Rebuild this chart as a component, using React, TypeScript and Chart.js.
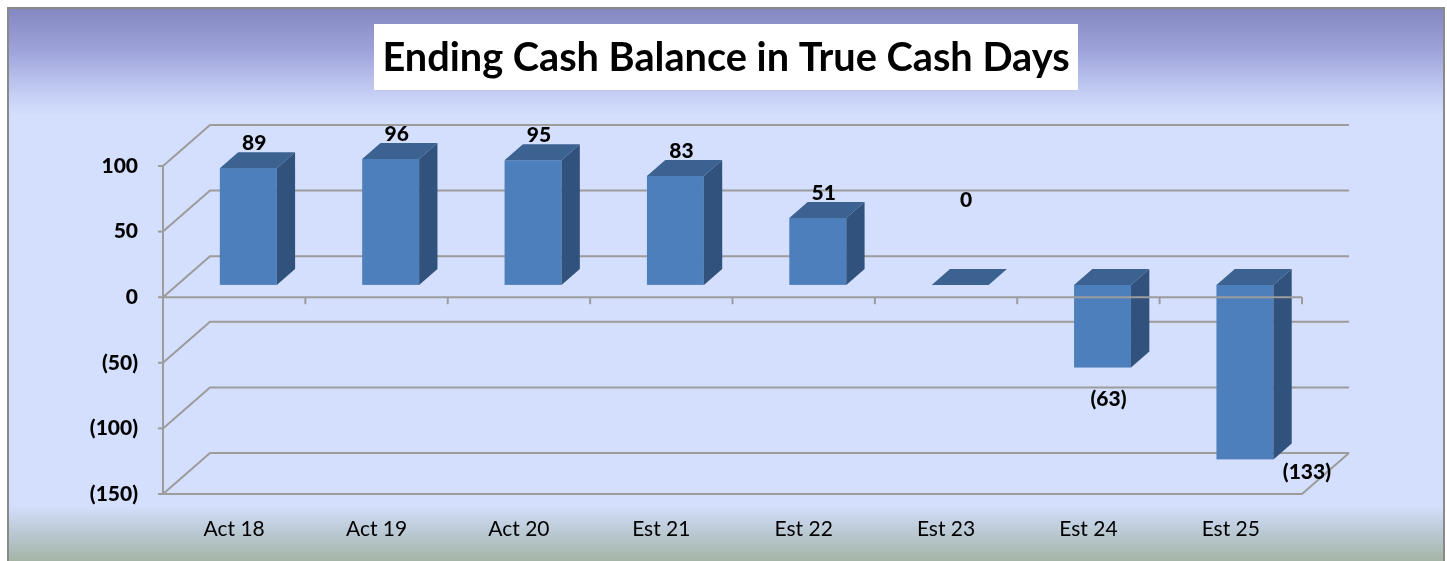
import React, { useEffect, useRef } from "react";
import { Chart, registerables } from "chart.js";

Chart.register(...registerables);

const TITLE = "Ending Cash Balance in True Cash Days";
const CATEGORIES = ["Act 18", "Act 19", "Act 20", "Est 21", "Est 22", "Est 23", "Est 24", "Est 25"];
const VALUES = [89, 96, 95, 83, 51, 0, -63, -133];
const Y_MIN = -150;
const Y_MAX = 100;
const Y_STEP = 50;

const fmt = (v: number) => (v < 0 ? `(${Math.abs(v)})` : `${v}`);

// 3D projection parameters
const WALL_DX = 47;
const WALL_DY = -41;
const BAR_FRONT = 0.3;
const BAR_BACK = 0.69;

const FONT = "Lato, 'Open Sans', sans-serif";
const GRID = "#9c9c9c";

const backgroundPlugin = {
  id: "bg3d",
  beforeDraw(chart: any) {
    const { ctx, width, height } = chart;
    ctx.save();
    ctx.fillStyle = "#ffffff";
    ctx.fillRect(0, 0, width, height);
    const g = ctx.createLinearGradient(0, 8, 0, height);
    g.addColorStop(0, "#8487c2");
    g.addColorStop(0.076, "#9da3d9");
    g.addColorStop(0.157, "#c6cff5");
    g.addColorStop(0.195, "#d4dffd");
    g.addColorStop(0.9, "#d4dffd");
    g.addColorStop(0.945, "#bccad6");
    g.addColorStop(1, "#a4b5a6");
    ctx.fillStyle = g;
    ctx.fillRect(8, 8, 1436, height);
    ctx.strokeStyle = "#8a8a8a";
    ctx.lineWidth = 2;
    ctx.strokeRect(8, 8, 1436, height + 10);

    // title box
    ctx.fillStyle = "#ffffff";
    ctx.fillRect(374, 24, 704, 66);
    let size = 42;
    ctx.font = `bold ${size}px ${FONT}`;
    const w = ctx.measureText(TITLE).width;
    size = Math.round(size * (688 / w) * 10) / 10;
    ctx.font = `bold ${size}px ${FONT}`;
    ctx.fillStyle = "#000000";
    ctx.textAlign = "center";
    ctx.textBaseline = "middle";
    ctx.fillText(TITLE, 726, 58);
    ctx.restore();
  },
  beforeDatasetsDraw(chart: any) {
    const { ctx, chartArea } = chart;
    const ys = chart.scales.y;
    const { left, right, top, bottom } = chartArea;
    ctx.save();
    ctx.strokeStyle = GRID;
    ctx.lineWidth = 2;
    ys.ticks.forEach((t: any) => {
      const y = ys.getPixelForValue(t.value);
      ctx.beginPath();
      ctx.moveTo(left, y);
      ctx.lineTo(left + WALL_DX, y + WALL_DY);
      ctx.lineTo(right + WALL_DX, y + WALL_DY);
      ctx.stroke();
      ctx.beginPath();
      ctx.moveTo(left - 5, y);
      ctx.lineTo(left, y);
      ctx.stroke();
    });
    // left front axis
    ctx.beginPath();
    ctx.moveTo(left, top);
    ctx.lineTo(left, bottom);
    ctx.stroke();
    // floor
    const yf = ys.getPixelForValue(Y_MIN);
    ctx.beginPath();
    ctx.moveTo(left, yf);
    ctx.lineTo(right, yf);
    ctx.lineTo(right + WALL_DX, yf + WALL_DY);
    ctx.stroke();
    ctx.restore();
  },
  afterDatasetsDraw(chart: any) {
    const { ctx, chartArea } = chart;
    const ys = chart.scales.y;
    const xs = chart.scales.x;
    const meta = chart.getDatasetMeta(0);
    const bx = WALL_DX * BAR_FRONT;
    const by = WALL_DY * BAR_FRONT;
    const dx = WALL_DX * (BAR_BACK - BAR_FRONT);
    const dy = WALL_DY * (BAR_BACK - BAR_FRONT);
    ctx.save();
    const boxes: any[] = [];
    meta.data.forEach((el: any, i: number) => {
      const p = el.getProps(["x", "y", "base", "width"], true);
      const l = p.x - p.width / 2 + bx;
      const r = p.x + p.width / 2 + bx;
      const t = Math.min(p.y, p.base) + by;
      const b = Math.max(p.y, p.base) + by;
      boxes.push({ l, r, t, b, v: VALUES[i] });
      if (b - t > 0.5) {
        ctx.fillStyle = "#4e7fbd";
        ctx.fillRect(l, t, r - l, b - t);
        ctx.fillStyle = "#30527c";
        ctx.beginPath();
        ctx.moveTo(r, t);
        ctx.lineTo(r + dx, t + dy);
        ctx.lineTo(r + dx, b + dy);
        ctx.lineTo(r, b);
        ctx.closePath();
        ctx.fill();
      }
      ctx.fillStyle = "#3b6290";
      ctx.beginPath();
      ctx.moveTo(l, t);
      ctx.lineTo(r, t);
      ctx.lineTo(r + dx, t + dy);
      ctx.lineTo(l + dx, t + dy);
      ctx.closePath();
      ctx.fill();
    });

    // front zero axis with category ticks
    const y0 = ys.getPixelForValue(0);
    const step = xs.getPixelForValue(1) - xs.getPixelForValue(0);
    ctx.strokeStyle = GRID;
    ctx.lineWidth = 2;
    ctx.beginPath();
    ctx.moveTo(chartArea.left, y0);
    ctx.lineTo(chartArea.right, y0);
    ctx.stroke();
    for (let i = 1; i <= CATEGORIES.length; i++) {
      const x = xs.getPixelForValue(0) - step / 2 + i * step;
      ctx.beginPath();
      ctx.moveTo(x, y0);
      ctx.lineTo(x, y0 + 7);
      ctx.stroke();
    }

    // data labels
    const floorBack = ys.getPixelForValue(Y_MIN) + WALL_DY;
    ctx.fillStyle = "#000000";
    ctx.font = `900 21px ${FONT}`;
    ctx.textAlign = "center";
    boxes.forEach((bxo) => {
      const cx = (bxo.l + bxo.r) / 2 + 6;
      const txt = fmt(bxo.v);
      if (bxo.v > 0) {
        ctx.textBaseline = "alphabetic";
        ctx.fillText(txt, cx, bxo.t + dy - 2);
      } else if (bxo.v === 0) {
        ctx.textBaseline = "alphabetic";
        ctx.fillText(txt, cx, bxo.t + dy - 62);
      } else {
        ctx.textBaseline = "middle";
        const ly = bxo.b + 32;
        if (ly > floorBack) {
          ctx.fillText(txt, cx + 56, bxo.b + 13);
        } else {
          ctx.fillText(txt, cx, ly);
        }
      }
    });
    ctx.restore();
  },
};

export default function App() {
  const ref = useRef<HTMLCanvasElement>(null);
  useEffect(() => {
    if (!ref.current) return;
    const chart = new Chart(ref.current, {
      type: "bar",
      data: {
        labels: CATEGORIES,
        datasets: [
          {
            data: VALUES,
            backgroundColor: "rgba(0,0,0,0)",
            borderWidth: 0,
            barPercentage: 0.4,
            categoryPercentage: 1.0,
          },
        ],
      },
      options: {
        responsive: false,
        animation: false,
        layout: { padding: { top: 166, right: 145, bottom: 0, left: 0 } },
        plugins: {
          legend: { display: false },
          tooltip: { enabled: false },
          title: { display: false },
        },
        scales: {
          x: {
            type: "category",
            offset: true,
            grid: { display: false, drawTicks: false },
            border: { display: false },
            ticks: {
              font: { family: FONT, size: 21 },
              color: "#000000",
              padding: 23,
              maxRotation: 0,
              autoSkip: false,
            },
            afterFit: (s: any) => {
              s.height = 67;
            },
          },
          y: {
            min: Y_MIN,
            max: Y_MAX,
            grid: { display: false, drawTicks: false },
            border: { display: false },
            ticks: {
              stepSize: Y_STEP,
              callback: (v: any) => fmt(Number(v)),
              font: { family: FONT, size: 21, weight: 900 },
              color: "#000000",
              padding: 25,
            },
            afterFit: (s: any) => {
              s.width = 163;
            },
          },
        },
      },
      plugins: [backgroundPlugin],
    } as any);
    return () => chart.destroy();
  }, []);
  return (
    <div style={{ position: "absolute", left: 0, top: 0, width: 1447, height: 561 }}>
      <canvas ref={ref} width={1447} height={561} style={{ display: "block" }} />
    </div>
  );
}
